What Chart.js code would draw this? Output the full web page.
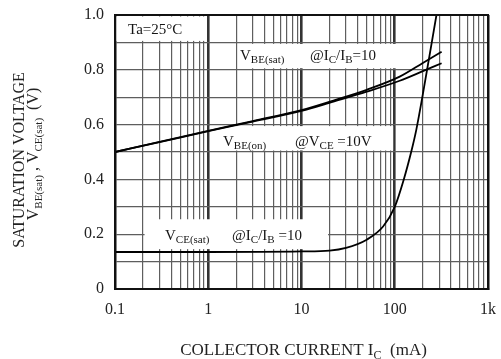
<!DOCTYPE html>
<html>
<head>
<meta charset="utf-8">
<script src="https://cdn.jsdelivr.net/npm/chart.js@4.4.1/dist/chart.umd.min.js"></script>
<style>
html,body{margin:0;padding:0;background:#fff;}
#wrap{width:501px;height:359px;position:relative;}
</style>
</head>
<body>
<div id="wrap"><canvas id="c" width="501" height="359"></canvas></div>
<script>
// ---- data ----
const icVbeSat = [0.1, 0.3, 1, 3, 10, 22, 50, 113, 200, 318];
const vbeSat   = [0.5, 0.537, 0.577, 0.613, 0.653, 0.688, 0.727, 0.775, 0.825, 0.866];
const icVbeOn  = [0.1, 0.3, 1, 3, 10, 22, 50, 113, 200, 318];
const vbeOn    = [0.5, 0.536, 0.576, 0.611, 0.65, 0.684, 0.72, 0.76, 0.795, 0.824];
const icVceSat = [0.1, 1, 10, 20, 30, 50, 75, 100, 125, 150, 170, 200, 230, 280];
const vceSat   = [0.135, 0.135, 0.137, 0.14, 0.15, 0.18, 0.228, 0.30, 0.40, 0.50, 0.58, 0.71, 0.83, 1.0];

// ---- ticks ----
const xDecades = [0.1, 1, 10, 100, 1000];
const xDecadeLabels = ['0.1', '1', '10', '100', '1k'];
const xMinorMultipliers = [2, 3, 4, 5, 6, 7, 8, 9];
const yTickValues = [0, 0.1, 0.2, 0.3, 0.4, 0.5, 0.6, 0.7, 0.8, 0.9, 1.0];
const yTickLabels = ['0', '', '0.2', '', '0.4', '', '0.6', '', '0.8', '', '1.0'];

// ---- annotations (text) ----
const textLabels = [
  {x: 0.138, y: 0.929, parts: [['Ta=25°C', 0]]},
  {x: 2.19, y: 0.836, parts: [['V', 0], ['BE(sat)', 1]]},
  {x: 12.3, y: 0.836, parts: [['@I', 0], ['C', 1], ['/I', 0], ['B', 1], ['=10', 0]]},
  {x: 1.44, y: 0.523, parts: [['V', 0], ['BE(on)', 1]]},
  {x: 8.5, y: 0.523, parts: [['@V', 0], ['CE', 1], [' =10V', 0]]},
  {x: 0.344, y: 0.18, parts: [['V', 0], ['CE(sat)', 1]]},
  {x: 1.8, y: 0.18, parts: [['@I', 0], ['C', 1], ['/I', 0], ['B', 1], [' =10', 0]]}
];
const labelBoxes = [
  {x0: 0.1, x1: 1, y0: 0.9, y1: 1.0},
  {x0: 2, x1: 200, y0: 0.8, y1: 0.9},
  {x0: 1, x1: 100, y0: 0.5, y1: 0.6},
  {x0: 0.2, x1: 20, y0: 0.14, y1: 0.26}
];
const xTitleParts = [['COLLECTOR CURRENT I', 0], ['C', 1], ['  (mA)', 0]];
const yTitleLine1 = [['SATURATION VOLTAGE', 0]];
const yTitleLine2 = [['V', 0], ['BE(sat)', 1], [' , V', 0], ['CE(sat)', 1], ['  (V)', 0]];

const FONT = '"Liberation Serif", "Times New Roman", serif';
const xGridValues = [];
xDecades.forEach((d, i) => {
  xGridValues.push(d);
  if (i < xDecades.length - 1) xMinorMultipliers.forEach(m => xGridValues.push(d * m));
});
const isDecade = v => xDecades.some(d => Math.abs(v - d) / d < 1e-6);

function toPts(xs, ys) { return xs.map((x, i) => ({x: x, y: ys[i]})); }

function richWidth(ctx, parts, size, subSize) {
  let w = 0;
  parts.forEach(p => { ctx.font = (p[1] ? subSize : size) + 'px ' + FONT; w += ctx.measureText(p[0]).width; });
  return w;
}
function drawRich(ctx, x, y, parts, size, subSize, subShift) {
  let cx = x;
  ctx.textBaseline = 'alphabetic';
  ctx.textAlign = 'left';
  parts.forEach(p => {
    ctx.font = (p[1] ? subSize : size) + 'px ' + FONT;
    ctx.fillText(p[0], cx, y + (p[1] ? subShift : 0));
    cx += ctx.measureText(p[0]).width;
  });
}

const boxesPlugin = {
  id: 'boxes',
  beforeDatasetsDraw(chart) {
    const ctx = chart.ctx, xs = chart.scales.x, ys = chart.scales.y;
    ctx.save();
    ctx.fillStyle = '#fff';
    labelBoxes.forEach(b => {
      const l = xs.getPixelForValue(b.x0) + 1.5, r = xs.getPixelForValue(b.x1) - 1.5;
      const t = ys.getPixelForValue(b.y1) + 1.5, bt = ys.getPixelForValue(b.y0) - 1.5;
      ctx.fillRect(l, t, r - l, bt - t);
    });
    ctx.fillStyle = '#151515';
    textLabels.forEach(t => {
      drawRich(ctx, xs.getPixelForValue(t.x), ys.getPixelForValue(t.y), t.parts, 15, 11, 3.5);
    });
    ctx.restore();
  },
  afterDraw(chart) {
    const ctx = chart.ctx, a = chart.chartArea;
    ctx.save();
    ctx.strokeStyle = '#111';
    ctx.lineWidth = 2;
    ctx.strokeRect(a.left, a.top, a.right - a.left, a.bottom - a.top);
    ctx.fillStyle = '#222';
    // x title
    const w = richWidth(ctx, xTitleParts, 17, 12);
    drawRich(ctx, (a.left + a.right) / 2 - w / 2 + 2, 355, xTitleParts, 17, 12, 4);
    // y title (rotated)
    const cy = 160;
    ctx.translate(24, cy);
    ctx.rotate(-Math.PI / 2);
    const w1 = richWidth(ctx, yTitleLine1, 16, 11);
    drawRich(ctx, -w1 / 2, 0, yTitleLine1, 16, 11, 4);
    const w2 = richWidth(ctx, yTitleLine2, 16, 11);
    drawRich(ctx, -w2 / 2 + 6, 14, yTitleLine2, 16, 11, 4);
    ctx.restore();
  }
};

const lineStyle = {borderColor: '#000', borderWidth: 1.8, pointRadius: 0, fill: false, cubicInterpolationMode: 'monotone'};

new Chart(document.getElementById('c'), {
  type: 'line',
  data: {
    datasets: [
      Object.assign({label: 'VBE(sat) @IC/IB=10', data: toPts(icVbeSat, vbeSat)}, lineStyle),
      Object.assign({label: 'VBE(on) @VCE=10V', data: toPts(icVbeOn, vbeOn)}, lineStyle),
      Object.assign({label: 'VCE(sat) @IC/IB=10', data: toPts(icVceSat, vceSat)}, lineStyle)
    ]
  },
  options: {
    responsive: false,
    devicePixelRatio: 1,
    animation: false,
    layout: {padding: {left: 0, right: 13, top: 15, bottom: 0}},
    plugins: {legend: {display: false}, tooltip: {enabled: false}},
    scales: {
      x: {
        type: 'logarithmic', min: 0.1, max: 1000,
        afterBuildTicks: s => { s.ticks = xGridValues.map(v => ({value: v})); },
        afterFit: s => { s.height = 70; s.paddingLeft = 0; s.paddingRight = 0; },
        ticks: {
          autoSkip: false, maxRotation: 0, padding: 11, color: '#222',
          font: {family: FONT, size: 16},
          callback: v => { const i = xDecades.findIndex(d => Math.abs(v - d) / d < 1e-6); return i >= 0 ? xDecadeLabels[i] : ''; }
        },
        grid: {
          drawTicks: false,
          color: ctx => isDecade(ctx.tick.value) ? '#333' : '#5e5e5e',
          lineWidth: ctx => isDecade(ctx.tick.value) ? 2.6 : 1.2
        },
        border: {display: true, color: '#111', width: 2}
      },
      y: {
        type: 'linear', min: 0, max: 1,
        afterBuildTicks: s => { s.ticks = yTickValues.map(v => ({value: v})); },
        afterFit: s => { s.width = 115; s.paddingTop = 0; s.paddingBottom = 0; },
        ticks: {
          autoSkip: false, padding: 11, color: '#222',
          font: {family: FONT, size: 16},
          callback: (v, i) => yTickLabels[i]
        },
        grid: {drawTicks: false, color: '#5e5e5e', lineWidth: 1.2},
        border: {display: true, color: '#111', width: 2}
      }
    }
  },
  plugins: [boxesPlugin]
});
</script>
</body>
</html>
